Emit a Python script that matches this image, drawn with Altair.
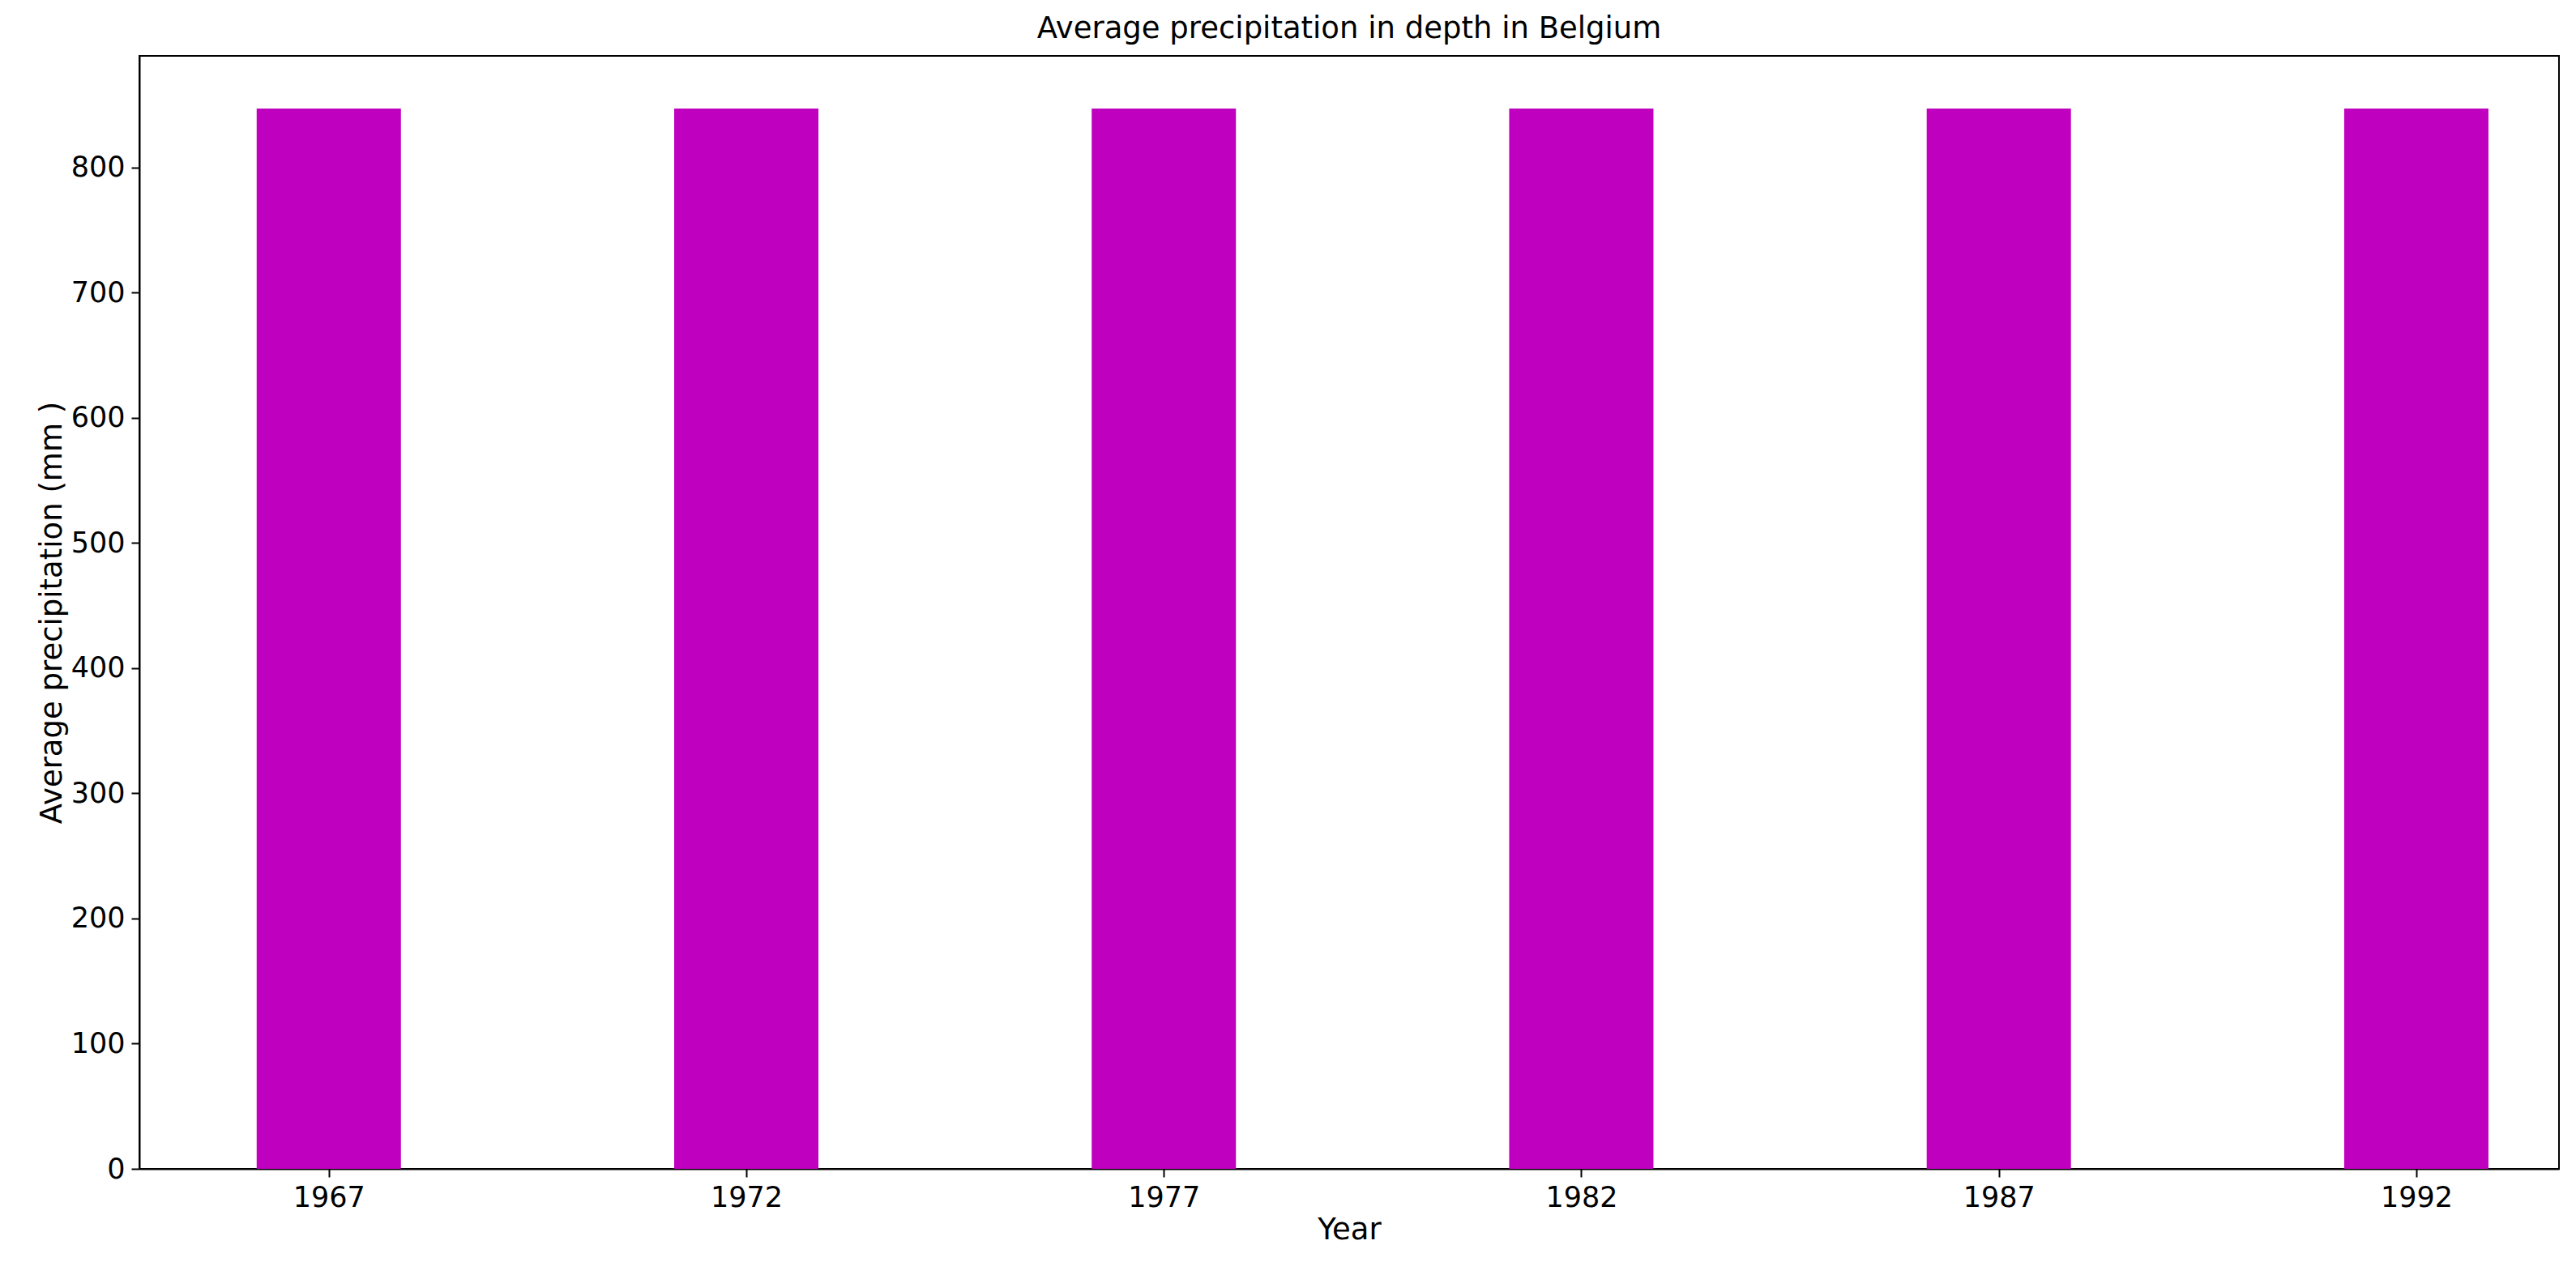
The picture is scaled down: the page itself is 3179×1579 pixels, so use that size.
import altair as alt
import pandas as pd

years = [1967, 1972, 1977, 1982, 1987, 1992]
precip = [847, 847, 847, 847, 847, 847]

data = pd.DataFrame({"Year": years, "Precip": precip})

chart = alt.Chart(data, title="Average precipitation in depth in Belgium").mark_bar(
    color="#bf00bf", size=178
).encode(
    x=alt.X("Year:Q", title="Year",
            scale=alt.Scale(domain=[1964.78, 1993.66], nice=False, zero=False),
            axis=alt.Axis(values=years, format="d", grid=False)),
    y=alt.Y("Precip:Q", title="Average precipitation (mm )",
            scale=alt.Scale(domain=[0, 889], nice=False),
            axis=alt.Axis(values=[0, 100, 200, 300, 400, 500, 600, 700, 800], grid=False)),
).properties(
    width=2986,
    height=1374,
    autosize=alt.AutoSizeParams(type="none"),
    padding={"left": 164, "top": 61, "right": 10, "bottom": 120},
).configure_view(
    stroke="black", strokeWidth=2
).configure_title(
    fontSize=37, font="DejaVu Sans", fontWeight="normal", offset=14
).configure_axis(
    labelFontSize=35, titleFontSize=37, labelFont="DejaVu Sans", titleFont="DejaVu Sans",
    titleFontWeight="normal", labelColor="black", titleColor="black",
    domainColor="black", tickColor="black", domainWidth=2, tickWidth=2, tickSize=10,
    labelPadding=8
)

chart.save("out.html", embed_options={"renderer": "svg", "actions": False})
